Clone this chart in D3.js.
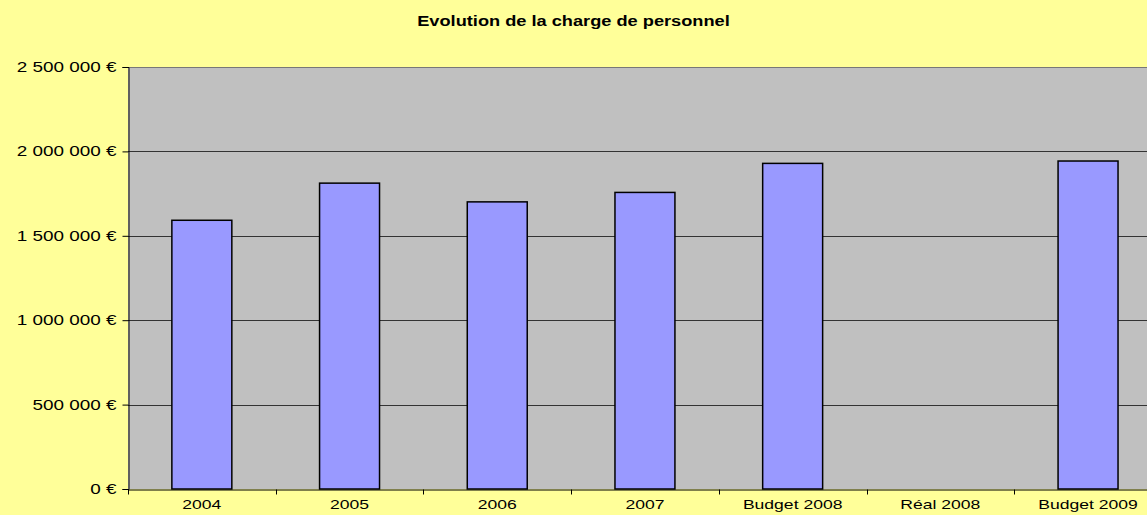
<!DOCTYPE html>
<html>
<head>
<meta charset="utf-8">
<script src="https://cdn.jsdelivr.net/npm/d3@7"></script>
<style>
  html, body { margin: 0; padding: 0; background: #FFFF99; }
  svg { display: block; }
  text { font-family: "Liberation Sans", Arial, sans-serif; fill: #000; }
</style>
</head>
<body>
<svg id="chart"></svg>
<script>
// données
const categories = ["2004", "2005", "2006", "2007", "Budget 2008", "Réal 2008", "Budget 2009"];
const values = [1592000, 1812000, 1701000, 1757000, 1929000, null, 1943000];
const yTicks = [0, 500000, 1000000, 1500000, 2000000, 2500000];
const chartTitle = "Evolution de la charge de personnel";

const W = 1147, H = 515;
const margin = { top: 67, left: 128, bottom: 26 };
const bandStep = 147.7;
const plotW = bandStep * categories.length; // dépasse le bord droit, comme l'original
const plotH = H - margin.top - margin.bottom;
const stretchX = 1.35;

const svg = d3.select("#chart").attr("width", W).attr("height", H);

svg.append("rect").attr("width", W).attr("height", H).attr("fill", "#FFFF99");

const g = svg.append("g").attr("transform", `translate(${margin.left},${margin.top})`);

const x = d3.scaleBand().domain(categories).range([0, plotW]).paddingInner(0.594).paddingOuter(0.297);
const y = d3.scaleLinear().domain([0, 2500000]).range([plotH, 0]);

const fmt = v => d3.format(",")(v).replace(/,/g, " ") + " €";

// élargir le texte comme dans l'image
function stretch(sel, k) {
  sel.each(function() {
    const len = this.getComputedTextLength();
    d3.select(this).attr("textLength", len * k).attr("lengthAdjust", "spacingAndGlyphs");
  });
}

g.append("rect").attr("width", plotW).attr("height", plotH).attr("fill", "#C0C0C0");

// quadrillage
g.selectAll(".grid").data(yTicks.filter(d => d > 0)).enter().append("line")
  .attr("x1", 0).attr("x2", plotW)
  .attr("y1", d => Math.round(y(d)) + 0.5).attr("y2", d => Math.round(y(d)) + 0.5)
  .attr("stroke", d => d === 2500000 ? "#777" : "#333").attr("stroke-width", 1);

// barres
g.selectAll(".bar").data(categories.map((c, i) => ({ c, v: values[i] })).filter(d => d.v != null))
  .enter().append("rect")
  .attr("x", d => x(d.c))
  .attr("y", d => y(d.v))
  .attr("width", x.bandwidth())
  .attr("height", d => plotH - y(d.v))
  .attr("fill", "#9999FF")
  .attr("stroke", "#000").attr("stroke-width", 1.5);

// axe Y
const yAxis = g.append("g").attr("transform", "translate(0.5,0)")
  .call(d3.axisLeft(y).tickValues(yTicks).tickFormat(fmt).tickSize(6).tickPadding(6));
yAxis.select(".domain").attr("stroke", "#000");
yAxis.selectAll(".tick line").attr("stroke", "#000");
yAxis.selectAll("text").style("font-size", "14px").style("font-family", "Liberation Sans, Arial, sans-serif").call(stretch, stretchX);

// axe X
const xAxis = g.append("g").attr("transform", `translate(0,${plotH + 0.5})`)
  .call(d3.axisBottom(x).tickSize(0).tickPadding(10));
xAxis.select(".domain").attr("stroke", "#000");
xAxis.selectAll("text").style("font-size", "13px").style("font-family", "Liberation Sans, Arial, sans-serif").call(stretch, stretchX);

// graduations entre catégories
xAxis.selectAll(".sep").data(d3.range(categories.length + 1)).enter().append("line")
  .attr("x1", i => Math.round(i * bandStep) + 0.5).attr("x2", i => Math.round(i * bandStep) + 0.5)
  .attr("y1", 0).attr("y2", 5).attr("stroke", "#000");

// titre
svg.append("text")
  .attr("x", W / 2).attr("y", 26)
  .attr("text-anchor", "middle")
  .style("font-size", "14px").style("font-weight", "bold")
  .text(chartTitle)
  .call(stretch, 1.3);
</script>
</body>
</html>
